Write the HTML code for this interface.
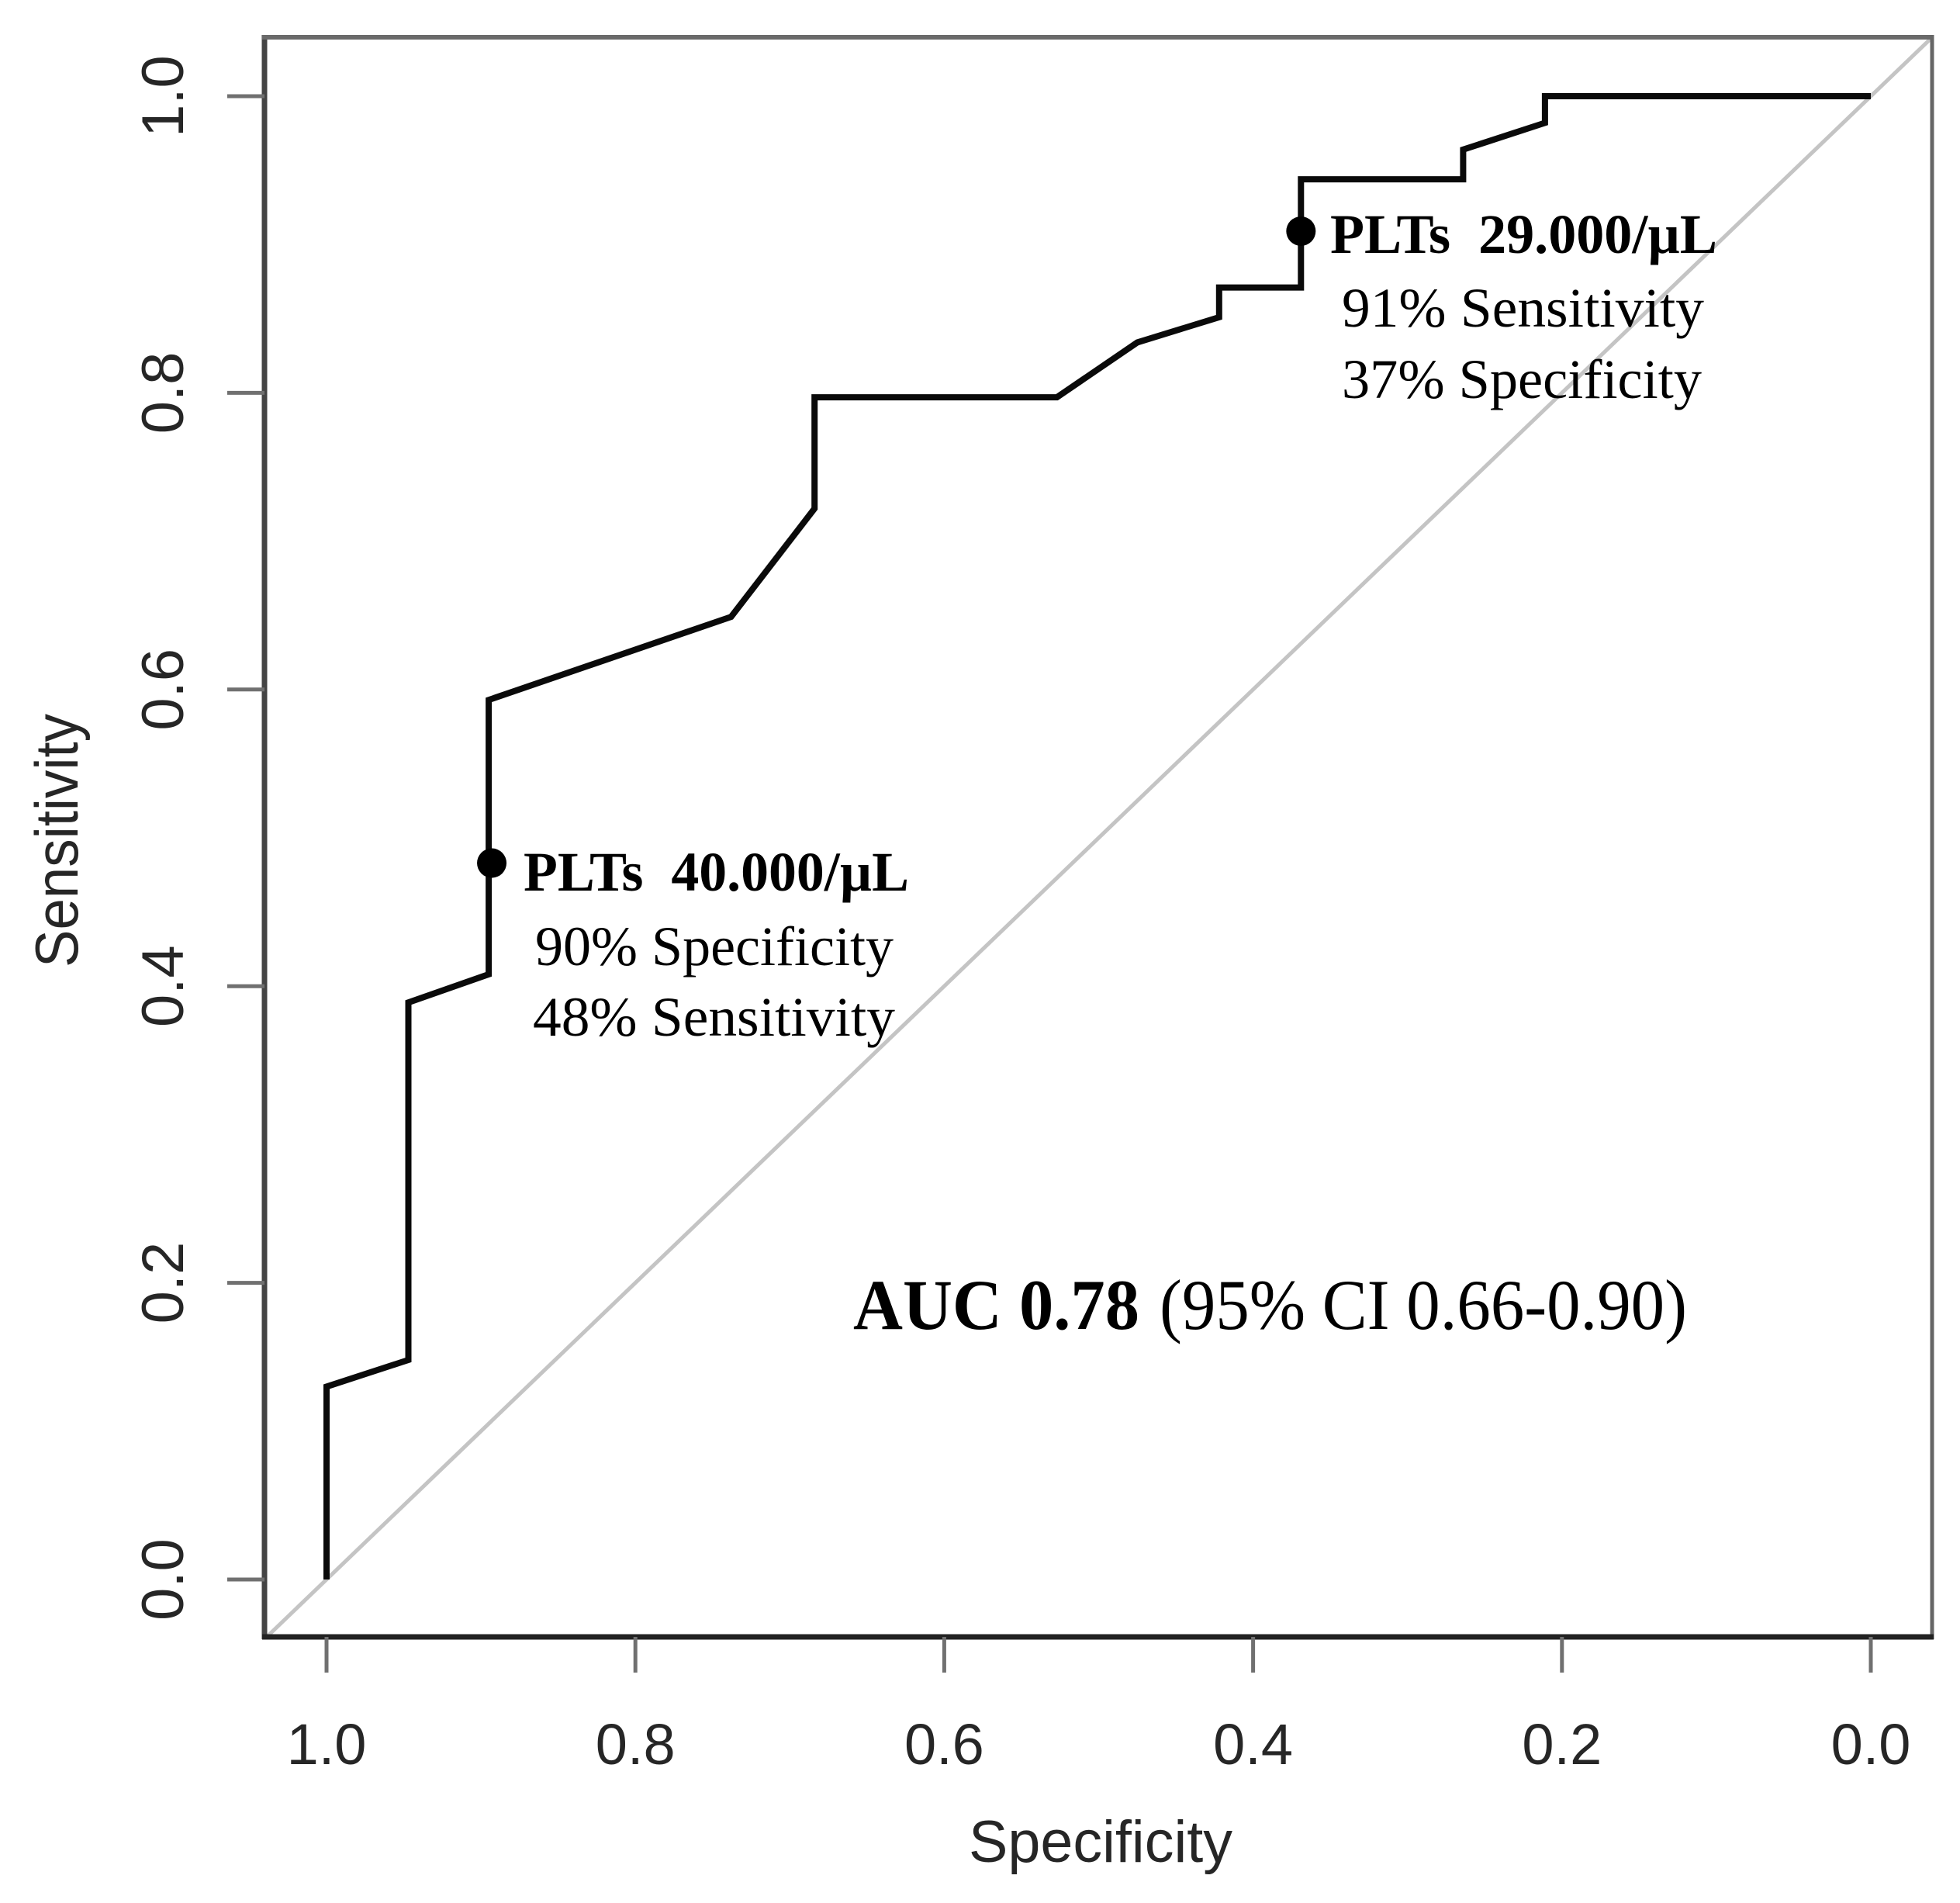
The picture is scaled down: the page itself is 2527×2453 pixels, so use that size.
<!DOCTYPE html>
<html lang="en">
<head>
<meta charset="utf-8">
<title>ROC curve for platelet count</title>
<style>
  html, body { margin: 0; padding: 0; background: #fff; }
  svg { display: block; }
  .axis-text { font-family: "Liberation Sans", Arial, sans-serif; fill: #262626; }
  .note { font-family: "Liberation Serif", "Times New Roman", serif; fill: #000; }
</style>
</head>
<body>
<svg id="chart" xmlns="http://www.w3.org/2000/svg" width="2527" height="2453" viewBox="0 0 2527 2453">
  <rect x="0" y="0" width="2527" height="2453" fill="#ffffff"/>
  <defs>
    <clipPath id="plot-clip"><rect x="341" y="48" width="2150" height="2062"/></clipPath>
  </defs>
  <g id="diagonal-layer" clip-path="url(#plot-clip)"></g>
  <g id="curve-layer"></g>
  <g id="frame-layer">
    <line x1="341" y1="45" x2="341" y2="2113" stroke="#444" stroke-width="7"/>
    <line x1="338" y1="48" x2="2493" y2="48" stroke="#6a6a6a" stroke-width="6"/>
    <line x1="2491" y1="45" x2="2491" y2="2113" stroke="#666" stroke-width="5"/>
    <line x1="338" y1="2110" x2="2493" y2="2110" stroke="#222" stroke-width="7"/>
  </g>
  <g id="axis-layer"></g>
  <g id="marker-layer"></g>

  <text class="axis-text" x="1249" y="2400" font-size="76" textLength="340" lengthAdjust="spacingAndGlyphs">Specificity</text>
  <text class="axis-text" transform="translate(100 1247) rotate(-90)" font-size="78" textLength="327" lengthAdjust="spacingAndGlyphs">Sensitivity</text>

  <text class="note" x="675" y="1148" font-size="72" font-weight="bold" textLength="497" lengthAdjust="spacingAndGlyphs" xml:space="preserve">PLTs  40.000/µL</text>
  <text class="note" x="690" y="1244" font-size="72" textLength="462" lengthAdjust="spacingAndGlyphs">90% Specificity</text>
  <text class="note" x="687" y="1335" font-size="72" textLength="467" lengthAdjust="spacingAndGlyphs">48% Sensitivity</text>

  <text class="note" x="1715" y="326" font-size="72" font-weight="bold" textLength="499" lengthAdjust="spacingAndGlyphs" xml:space="preserve">PLTs  29.000/µL</text>
  <text class="note" x="1730" y="421" font-size="72" textLength="467" lengthAdjust="spacingAndGlyphs">91% Sensitivity</text>
  <text class="note" x="1730" y="513" font-size="72" textLength="464" lengthAdjust="spacingAndGlyphs">37% Specificity</text>

  <text class="note" x="1100" y="1713" font-size="92" font-weight="bold" textLength="369" lengthAdjust="spacingAndGlyphs">AUC 0.78</text>
  <text class="note" x="1495" y="1713" font-size="92" textLength="680" lengthAdjust="spacingAndGlyphs">(95% CI 0.66-0.90)</text>
</svg>
<script>
var specificityValues = [1.000, 1.000, 0.947, 0.947, 0.895, 0.895, 0.738, 0.684, 0.684, 0.527, 0.475, 0.422, 0.422, 0.369, 0.369, 0.264, 0.264, 0.211, 0.211, 0.000];
var sensitivityValues = [0.000, 0.130, 0.148, 0.389, 0.408, 0.593, 0.649, 0.722, 0.797, 0.797, 0.834, 0.851, 0.871, 0.871, 0.944, 0.944, 0.964, 0.982, 1.000, 1.000];
var cutoffSpecificity = [0.893, 0.369];
var cutoffSensitivity = [0.483, 0.909];
var xTickValues = [1.0, 0.8, 0.6, 0.4, 0.2, 0.0];
var yTickValues = [0.0, 0.2, 0.4, 0.6, 0.8, 1.0];
var tickLabels = ["0.0", "0.2", "0.4", "0.6", "0.8", "1.0"];
var referenceLineSpecificity = [1.05, -0.05];
var referenceLineSensitivity = [-0.05, 1.05];

var SVG_NS = "http://www.w3.org/2000/svg";
function xScale(spec) { return 421 + (1 - spec) * 1991; }
function yScale(sens) { return 2036 - sens * 1912; }
function svgEl(tag) { return document.createElementNS(SVG_NS, tag); }
function labelFor(value) { return tickLabels[Math.round(value * 5)]; }
function pointsFrom(xs, ys) {
  return xs.map(function (s, i) { return xScale(s).toFixed(1) + "," + yScale(ys[i]).toFixed(1); }).join(" ");
}

var diagonal = svgEl("polyline");


diagonal.setAttribute("points", pointsFrom(referenceLineSpecificity, referenceLineSensitivity));
diagonal.setAttribute("fill", "none");
diagonal.setAttribute("stroke", "#c4c4c4");
diagonal.setAttribute("stroke-width", "5");
document.getElementById("diagonal-layer").appendChild(diagonal);

var curve = svgEl("polyline");


curve.setAttribute("points", pointsFrom(specificityValues, sensitivityValues));
curve.setAttribute("fill", "none");
curve.setAttribute("stroke", "#0a0a0a");
curve.setAttribute("stroke-width", "8");
curve.setAttribute("stroke-linejoin", "miter");
document.getElementById("curve-layer").appendChild(curve);

var axisLayer = document.getElementById("axis-layer");
xTickValues.forEach(function (v) {
  var px = xScale(v);
  var tick = svgEl("line");
  
  
  tick.setAttribute("x1", px);
  tick.setAttribute("x2", px);
  tick.setAttribute("y1", 2110);
  tick.setAttribute("y2", 2156);
  tick.setAttribute("stroke", "#707070");
  tick.setAttribute("stroke-width", "5");
  axisLayer.appendChild(tick);
  var label = svgEl("text");
  
  
  label.setAttribute("class", "axis-text");
  label.setAttribute("x", px);
  label.setAttribute("y", 2274);
  label.setAttribute("font-size", "74");
  label.setAttribute("text-anchor", "middle");
  label.textContent = labelFor(v);
  axisLayer.appendChild(label);
});
yTickValues.forEach(function (v) {
  var py = yScale(v);
  var tick = svgEl("line");
  
  
  tick.setAttribute("x1", 293);
  tick.setAttribute("x2", 341);
  tick.setAttribute("y1", py);
  tick.setAttribute("y2", py);
  tick.setAttribute("stroke", "#707070");
  tick.setAttribute("stroke-width", "5");
  axisLayer.appendChild(tick);
  var label = svgEl("text");
  
  
  label.setAttribute("class", "axis-text");
  label.setAttribute("transform", "translate(236 " + py + ") rotate(-90)");
  label.setAttribute("font-size", "76");
  label.setAttribute("text-anchor", "middle");
  label.textContent = labelFor(v);
  axisLayer.appendChild(label);
});

var markerLayer = document.getElementById("marker-layer");
cutoffSpecificity.forEach(function (s, i) {
  var dot = svgEl("circle");
  
  
  dot.setAttribute("cx", xScale(s));
  dot.setAttribute("cy", yScale(cutoffSensitivity[i]));
  dot.setAttribute("r", "19");
  dot.setAttribute("fill", "#000");
  markerLayer.appendChild(dot);
});
</script>
</body>
</html>
